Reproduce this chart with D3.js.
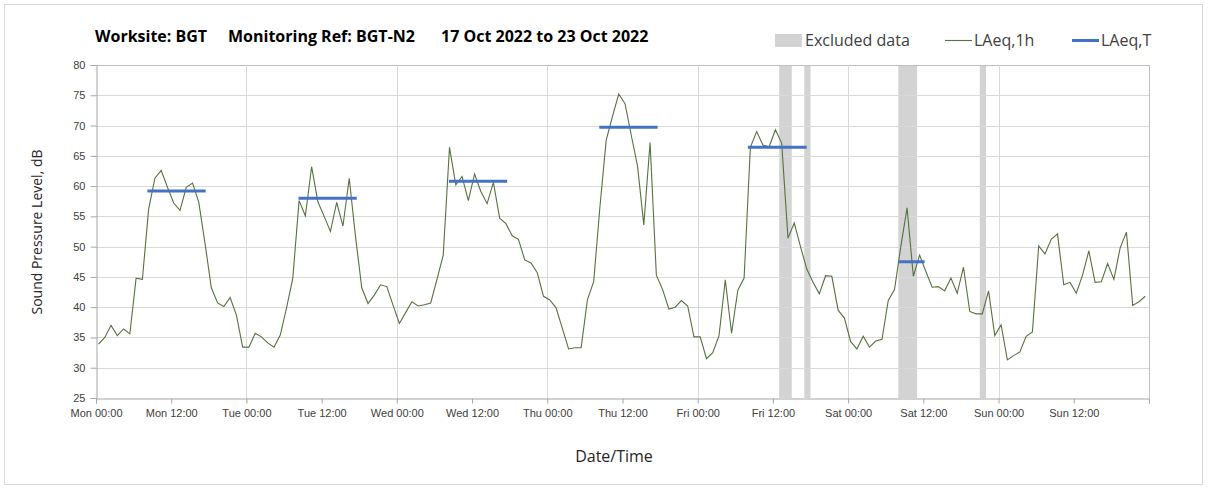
<!DOCTYPE html>
<html>
<head>
<meta charset="utf-8">
<script src="https://cdn.jsdelivr.net/npm/d3@7"></script>
<style>
  body { margin: 0; background: #fff; }
  svg { display: block; font-family: "Open Sans", "Noto Sans", sans-serif; }
</style>
</head>
<body>
<svg id="chart" width="1208" height="490"></svg>
<script>
// hourly LAeq,1h values, Mon 00:00 .. Sun 23:00
const laeq1h = [
  33.9, 35.0, 37.0, 35.3, 36.4, 35.6, 44.8, 44.6, 56.2, 61.3, 62.6, 59.8, 57.2, 56.0, 59.8, 60.5, 57.3, 50.5, 43.2, 40.7, 40.1, 41.6, 38.7, 33.4,
  33.4, 35.7, 35.1, 34.1, 33.4, 35.4, 39.9, 44.8, 57.6, 55.1, 63.2, 57.4, 55.0, 52.5, 57.3, 53.4, 61.3, 51.7, 43.2, 40.6, 42.0, 43.7, 43.4, 40.3,
  37.3, 39.1, 40.9, 40.2, 40.4, 40.7, 44.6, 48.6, 66.4, 60.2, 61.6, 57.6, 62.0, 59.1, 57.1, 60.6, 54.7, 53.8, 51.8, 51.2, 47.8, 47.3, 45.7, 41.8,
  41.2, 39.9, 36.5, 33.1, 33.3, 33.3, 41.2, 44.2, 56.6, 67.6, 71.5, 75.2, 73.6, 68.4, 63.3, 53.6, 67.2, 45.3, 42.9, 39.7, 40.0, 41.1, 40.2, 35.1,
  35.1, 31.5, 32.5, 35.3, 44.5, 35.7, 42.8, 44.8, 66.4, 69.0, 66.8, 66.5, 69.3, 67.1, 51.4, 53.9, 50.0, 46.3, 44.1, 42.2, 45.2, 45.1, 39.5, 38.2,
  34.3, 33.1, 35.2, 33.4, 34.4, 34.7, 41.1, 42.9, 50.0, 56.4, 45.1, 48.6, 45.9, 43.3, 43.4, 42.7, 44.8, 42.3, 46.6, 39.3, 38.9, 38.9, 42.7, 35.3,
  37.1, 31.3, 32.0, 32.6, 35.2, 35.9, 50.1, 48.8, 51.2, 52.1, 43.7, 44.1, 42.3, 45.3, 49.3, 44.1, 44.2, 47.2, 44.6, 49.8, 52.4, 40.3, 40.9, 41.8
];

// LAeq,T periods (hours from Mon 00:00)
const laeqTStart = [8.2, 32.3, 56.3, 80.3, 104.0, 128.0];
const laeqTEnd = [17.5, 41.6, 65.6, 89.6, 113.4, 132.2];
const laeqTValue = [59.2, 58.0, 60.8, 69.7, 66.4, 47.5];

// excluded data windows (hours)
const excludedStart = [109, 113, 128, 141];
const excludedEnd = [111, 114, 131, 142];

const dayNames = ["Mon", "Tue", "Wed", "Thu", "Fri", "Sat", "Sun"];
const yTicks = [25, 30, 35, 40, 45, 50, 55, 60, 65, 70, 75, 80];

const plotLeft = 96, plotRight = 1149, plotTop = 65, plotBottom = 398;

const svg = d3.select("#chart");

svg.append("rect")
  .attr("x", 4.5).attr("y", 4.5)
  .attr("width", 1198).attr("height", 480)
  .attr("fill", "#fff").attr("stroke", "#d9d9d9");

const x = d3.scaleLinear().domain([0, 168]).range([plotLeft, plotRight]);
const y = d3.scaleLinear().domain([25, 80]).range([plotBottom, plotTop]);

// excluded bands
svg.append("g").selectAll("rect")
  .data(excludedStart)
  .join("rect")
  .attr("x", (d) => x(d))
  .attr("width", (d, i) => x(excludedEnd[i]) - x(d))
  .attr("y", plotTop)
  .attr("height", plotBottom - plotTop)
  .attr("fill", "#d3d3d3");

// grid
svg.append("g").selectAll("line")
  .data(yTicks.slice(1))
  .join("line")
  .attr("x1", plotLeft).attr("x2", plotRight)
  .attr("y1", (d) => Math.round(y(d)) + 0.5)
  .attr("y2", (d) => Math.round(y(d)) + 0.5)
  .attr("stroke", (d) => d === 80 ? "#bfbfbf" : "#d9d9d9");

svg.append("g").selectAll("line")
  .data(d3.range(24, 169, 24))
  .join("line")
  .attr("x1", (d) => Math.round(x(d)) + 0.5)
  .attr("x2", (d) => Math.round(x(d)) + 0.5)
  .attr("y1", plotTop).attr("y2", plotBottom)
  .attr("stroke", (d) => d === 168 ? "#bfbfbf" : "#d9d9d9");

// axes
const yAxis = svg.append("g")
  .attr("transform", `translate(${plotLeft + 0.5},0)`)
  .call(d3.axisLeft(y).tickValues(yTicks).tickSize(6).tickPadding(5).tickFormat(d3.format("d")));

const xTickValues = d3.range(0, 169, 12);
const xAxis = svg.append("g")
  .attr("transform", `translate(0,${Math.round(plotBottom) + 0.5})`)
  .call(d3.axisBottom(x).tickValues(xTickValues).tickSize(5).tickPadding(6)
    .tickFormat((d) => d >= 168 ? "" : `${dayNames[Math.floor(d / 24)]} ${d % 24 === 0 ? "00:00" : "12:00"}`));

[yAxis, xAxis].forEach((a) => {
  a.select(".domain").attr("stroke", "#a6a6a6");
  a.selectAll(".tick line").attr("stroke", "#a6a6a6");
  a.selectAll(".tick text").attr("fill", "#404040").attr("font-size", 11);
});

// LAeq,1h line
const line = d3.line()
  .x((d, i) => x(i + 0.4))
  .y((d) => y(d));

svg.append("path")
  .datum(laeq1h)
  .attr("d", line)
  .attr("fill", "none")
  .attr("stroke", "#56723f")
  .attr("stroke-width", 1.1);

// LAeq,T segments
svg.append("g").selectAll("line")
  .data(laeqTValue)
  .join("line")
  .attr("x1", (d, i) => x(laeqTStart[i]))
  .attr("x2", (d, i) => x(laeqTEnd[i]))
  .attr("y1", (d) => y(d))
  .attr("y2", (d) => y(d))
  .attr("stroke", "#4472c4")
  .attr("stroke-width", 3);

// title
const title = svg.append("g")
  .attr("font-weight", "bold")
  .attr("font-size", 16)
  .attr("fill", "#000");
title.append("text").attr("x", 95).attr("y", 42).text("Worksite: BGT");
title.append("text").attr("x", 228).attr("y", 42).text("Monitoring Ref: BGT-N2");
title.append("text").attr("x", 441).attr("y", 42).text("17 Oct 2022 to 23 Oct 2022");

// legend
const legend = svg.append("g").attr("font-size", 16).attr("fill", "#404040");
legend.append("rect").attr("x", 775).attr("y", 34).attr("width", 27).attr("height", 13).attr("fill", "#d3d3d3");
legend.append("text").attr("x", 805).attr("y", 46).text("Excluded data");
legend.append("line").attr("x1", 945).attr("x2", 972).attr("y1", 40.5).attr("y2", 40.5)
  .attr("stroke", "#56723f").attr("stroke-width", 1.1);
legend.append("text").attr("x", 974).attr("y", 46).text("LAeq,1h");
legend.append("line").attr("x1", 1072).attr("x2", 1099).attr("y1", 40.5).attr("y2", 40.5)
  .attr("stroke", "#4472c4").attr("stroke-width", 3);
legend.append("text").attr("x", 1101).attr("y", 46).text("LAeq,T");

// axis titles
svg.append("text")
  .attr("transform", "translate(42,232) rotate(-90)")
  .attr("text-anchor", "middle")
  .attr("font-size", 14)
  .attr("fill", "#262626")
  .text("Sound Pressure Level, dB");

svg.append("text")
  .attr("x", 614).attr("y", 462)
  .attr("text-anchor", "middle")
  .attr("font-size", 16)
  .attr("fill", "#262626")
  .text("Date/Time");
</script>
</body>
</html>
